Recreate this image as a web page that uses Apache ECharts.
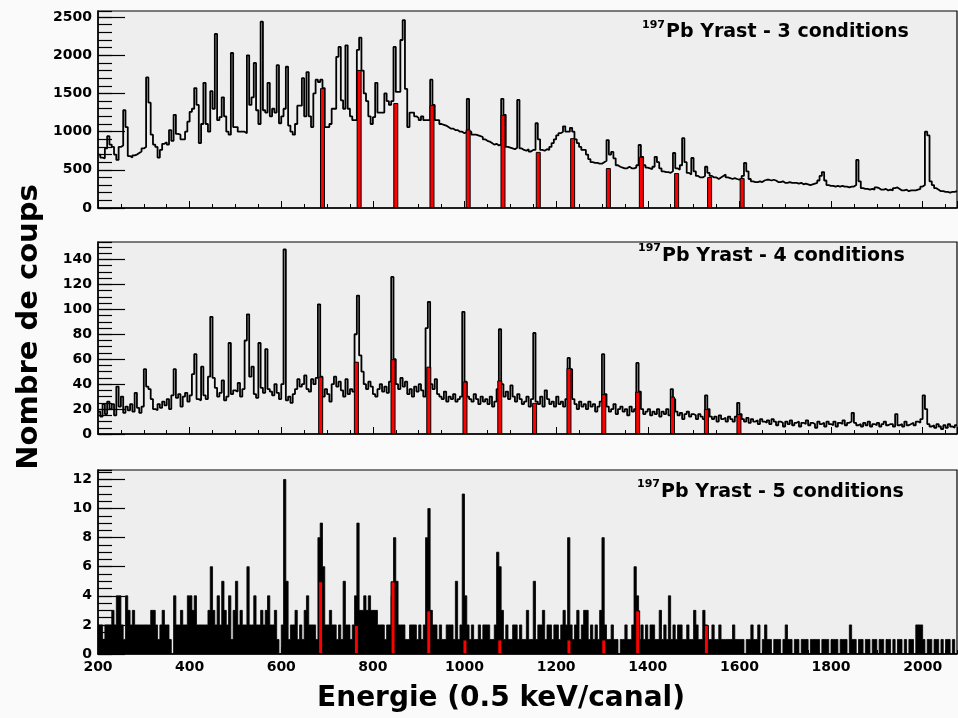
<!DOCTYPE html>
<html><head><meta charset="utf-8">
<script src="https://cdn.jsdelivr.net/npm/echarts@6/dist/echarts.min.js"></script>
<style>html,body{margin:0;padding:0;background:#fafafa}#c{width:958px;height:718px}</style>
</head><body><div id="c"></div>
<script>
// Histogram binning (channel energy axis)
const binStart = 200;
const binWidth = 5;
const xMin = 200, xMax = 2075;

// 197Pb Yrast - 3 conditions (counts per 5-channel bin, 200..2075)
const counts3 = [
 700,660,650,780,940,830,800,700,630,800,820,1280,1060,680,660,690,700,720,740,780,
 800,1710,1380,960,830,800,660,760,840,860,830,1020,880,1220,970,960,900,900,1000,1130,
 1260,1300,1570,1350,850,1100,1640,1100,1000,1530,1300,2280,1150,1190,1450,1200,1000,960,2030,1060,
 1060,1000,1000,1000,980,2000,1350,1450,1900,1280,1100,2440,1280,1250,1640,1200,1300,1250,1870,1110,
 1200,1300,1850,1080,1000,960,1100,1340,1340,1700,1200,1780,1200,1060,1500,1680,1650,1680,1570,1060,
 1060,1100,1300,1300,1980,2110,1410,1300,2130,1300,1200,1150,1150,2070,2230,1800,1500,1400,1200,1100,
 1190,1640,1250,1250,1250,1500,1400,1350,1400,2110,1520,1520,2200,2460,1560,1060,1250,1250,1200,1180,
 1150,1200,1150,1150,1150,1680,1350,1150,1150,1100,1090,1080,1060,1040,1040,1020,1020,1000,1000,980,
 1000,1430,1000,960,960,950,940,930,900,880,870,850,830,840,820,830,1430,1220,800,790,
 780,770,790,1415,780,760,750,770,740,760,760,1110,900,760,750,770,760,800,850,900,
 950,980,1000,1070,1000,1000,1050,1000,900,850,800,760,760,700,640,600,590,590,580,580,
 600,620,890,700,735,650,560,540,530,520,520,540,520,520,530,560,825,670,560,530,
 520,510,540,670,600,520,480,470,470,460,480,720,520,500,560,915,600,460,440,655,
 480,420,400,400,420,540,460,420,400,400,380,400,420,440,400,390,380,390,380,370,
 390,420,590,480,380,350,340,340,350,340,360,370,370,360,370,360,340,340,350,330,
 330,340,330,330,330,320,330,310,320,310,300,310,320,330,360,420,470,360,300,290,
 290,280,290,280,290,280,280,270,280,280,300,630,350,260,250,250,240,250,240,270,
 260,240,240,250,230,240,230,260,270,250,230,230,240,220,230,230,230,240,250,280,
 300,1000,950,350,300,260,240,220,220,210,210,200,210,210,220
];
// 197Pb Yrast - 4 conditions
const counts4 = [
 18,14,24,16,26,20,24,15,38,22,30,17,22,19,24,18,33,21,17,22,
 52,38,36,28,20,19,24,21,26,23,28,20,31,52,29,32,22,30,33,26,
 31,48,64,28,27,54,31,28,46,94,45,37,30,33,43,27,30,73,32,35,
 34,41,30,36,75,96,46,54,32,29,73,37,33,68,36,34,31,40,33,28,
 40,148,27,30,25,32,36,44,38,40,47,36,34,44,40,45,104,46,30,36,
 32,26,40,46,38,42,35,30,44,32,36,34,80,111,63,50,40,36,42,38,
 32,30,36,40,34,38,33,42,126,60,40,36,45,38,42,32,36,30,38,34,
 40,35,30,85,106,40,36,44,32,30,28,34,26,30,28,32,26,28,30,98,
 42,30,28,26,32,28,24,30,26,28,24,30,22,26,36,84,40,30,34,28,
 39,30,26,32,28,24,26,30,22,28,81,26,24,30,22,35,28,24,26,22,
 30,24,26,22,28,61,52,28,24,20,26,22,24,20,26,22,24,18,22,26,
 64,32,22,18,20,24,16,20,22,18,20,15,22,18,20,57,34,20,16,18,
 20,15,18,16,20,14,18,16,20,15,36,28,18,15,17,12,16,18,14,16,
 15,12,16,14,12,31,20,14,12,14,10,15,12,13,10,14,12,10,14,25,
 16,12,10,13,9,12,10,11,8,12,10,9,11,8,12,10,7,10,9,6,
 10,8,11,7,9,10,6,9,8,11,7,9,8,5,10,8,9,6,10,8,
 7,10,6,9,8,11,7,9,10,17,9,7,8,6,9,7,10,6,8,7,
 9,6,8,10,7,8,8,6,16,7,8,6,10,7,8,9,7,10,9,12,
 31,20,8,6,7,5,8,6,4,7,5,8,6,5,7
];
// 197Pb Yrast - 5 conditions
const counts5 = [
 2,2,1,2,2,2,3,2,4,4,2,1,4,3,2,3,2,2,2,2,
 2,2,2,3,3,2,1,2,3,2,2,1,0,4,2,2,3,2,2,4,
 4,3,4,2,2,2,2,2,3,6,3,2,4,2,5,3,2,4,1,3,
 5,2,3,2,2,6,2,2,4,2,2,3,2,3,4,2,2,3,1,0,
 2,12,5,1,2,2,3,1,2,1,3,4,2,2,2,1,8,9,6,2,
 2,3,2,2,1,2,1,5,2,2,1,2,4,9,3,3,4,3,4,3,
 3,3,2,2,2,1,2,2,4,8,5,2,2,2,1,1,2,2,2,1,
 2,1,2,8,10,3,2,2,1,2,1,1,2,2,2,1,5,1,2,11,
 4,2,1,2,1,1,2,1,2,2,2,1,1,2,7,6,3,1,2,1,
 1,2,2,1,2,1,1,3,1,1,5,1,2,2,3,1,2,2,1,2,
 2,1,2,3,2,8,2,1,2,3,1,2,3,3,1,2,1,2,1,3,
 8,2,1,1,2,1,1,0,1,1,2,1,1,2,6,4,1,2,1,2,
 1,2,2,1,1,3,1,2,1,4,1,2,1,2,2,1,1,2,1,1,
 3,2,1,1,3,2,1,1,2,1,1,2,1,1,1,1,1,2,1,1,
 1,1,0,1,1,2,1,1,2,0,1,2,1,1,0,1,1,1,0,1,
 2,1,1,0,1,1,0,1,1,1,0,1,1,1,1,0,1,1,1,0,
 1,1,1,0,1,1,1,0,2,1,1,0,1,1,0,1,1,0,1,1,
 0,1,1,0,1,1,0,1,0,1,1,0,1,0,1,1,0,2,2,2,
 1,0,1,1,0,1,1,0,1,0,1,1,0,1,0
];

// Yrast band transitions (red)
const peakE3 = [690,770,850,929,1008,1084,1161,1236,1314,1386,1463,1535,1606];
const peakH3 = [1570,1808,1375,1350,1030,1220,735,915,523,670,458,406,393];
const peakE4 = [686,764,844,922,1001,1077,1153,1228,1304,1378,1454,1528,1599];
const peakH4 = [46,58,60,54,42,43,25,53,32,34,30,20,16];
const peakE5 = [686,764,844,922,1001,1077,1228,1304,1378,1528];
const peakH5 = [5,2,5,3,1,1,1,1,3,2];

const titleSup = '197';
const titleMain = ['Pb Yrast - 3 conditions','Pb Yrast - 4 conditions','Pb Yrast - 5 conditions'];
const yMax = [2580, 154, 12.65];
const yMajor = [500, 20, 2];
const yMinor = [100, 5, 0.5];
const xMajor = 200, xMinorStep = 50;
const yTitle = 'Nombre de coups';
const xTitle = 'Energie (0.5 keV/canal)';

const FONT = '"DejaVu Sans", sans-serif';
function hist(counts){
  const d = counts.map((v,i)=>[binStart+i*binWidth, v]);
  d.push([binStart+counts.length*binWidth, counts[counts.length-1]]);
  return d;
}
const grids = [
  {left:98, right:1, top:11, height:197},
  {left:98, right:1, top:242, height:192},
  {left:98, right:1, top:470, height:184}
].map(g=>Object.assign(g,{show:true, backgroundColor:'#eeeeee', borderColor:'#000', borderWidth:1.2}));

const xAxes = [], yAxes = [];
for (let g=0; g<3; g++){
  xAxes.push({type:'value', gridIndex:g, position:'bottom', min:xMin, max:xMax, interval:xMajor,
    axisLine:{show:true, onZero:false, lineStyle:{color:'#000', width:1.5}},
    axisTick:{show:true, inside:true, length:7, lineStyle:{color:'#000', width:1}},
    splitLine:{show:false},
    axisLabel:{show:g===2, showMaxLabel:false, color:'#000', fontFamily:FONT, fontWeight:'bold', fontSize:14, margin:6, formatter:v=>String(v)}});
  xAxes.push({type:'value', gridIndex:g, position:'bottom', min:xMin, max:xMax, interval:xMinorStep,
    axisLine:{show:false, onZero:false}, axisTick:{show:true, inside:true, length:4, lineStyle:{color:'#000', width:1}},
    splitLine:{show:false}, axisLabel:{show:false}});
  yAxes.push({type:'value', gridIndex:g, position:'left', min:0, max:yMax[g], interval:yMajor[g],
    axisLine:{show:true, onZero:false, lineStyle:{color:'#000', width:1.5}},
    axisTick:{show:true, inside:true, length:27, lineStyle:{color:'#000', width:1.2}},
    splitLine:{show:false},
    axisLabel:{showMaxLabel:false, color:'#000', fontFamily:FONT, fontWeight:'bold', fontSize:14, margin:6, formatter:v=>String(v)}});
  yAxes.push({type:'value', gridIndex:g, position:'left', min:0, max:yMax[g], interval:yMinor[g],
    axisLine:{show:false, onZero:false}, axisTick:{show:true, inside:true, length:14, lineStyle:{color:'#000', width:1.2}},
    splitLine:{show:false}, axisLabel:{show:false}});
}
const countsAll = [counts3, counts4, counts5];
const peaksE = [peakE3, peakE4, peakE5], peaksH = [peakH3, peakH4, peakH5];
const series = [];
for (let g=0; g<3; g++){
  const s = {type:'line', xAxisIndex:2*g, yAxisIndex:2*g, step:'end', data:hist(countsAll[g]),
    symbol:'none', lineStyle:{color:'#000', width:g===2?0.8:1.8}, z:3, silent:true};
  if (g===2) s.areaStyle = {color:'#000', opacity:1};
  series.push(s);
  series.push({type:'bar', xAxisIndex:2*g, yAxisIndex:2*g, barWidth:5, z:4, silent:true,
    data:peaksE[g].map((e,i)=>[e, peaksH[g][i]]),
    itemStyle:{color:'#ff0000', borderColor:'#000', borderWidth:1}});
}
const supPos = [[642,20],[638,243],[637,479]];
const mainPos = [[666,23],[662,247],[661,483]];
const graphic = [];
for (let g=0; g<3; g++){
  graphic.push({type:'text', x:supPos[g][0], y:supPos[g][1], style:{text:titleSup, fill:'#000',
    font:'bold 11px '+FONT, align:'left', verticalAlign:'top', textAlign:'left', textVerticalAlign:'top'}});
  graphic.push({type:'text', x:mainPos[g][0], y:mainPos[g][1], style:{text:titleMain[g], fill:'#000',
    font:'bold 19px '+FONT, align:'left', verticalAlign:'top', textAlign:'left', textVerticalAlign:'top'}});
}
graphic.push({type:'text', x:29, y:327, rotation:Math.PI/2, style:{text:yTitle, fill:'#000',
  font:'bold 29px '+FONT, align:'center', verticalAlign:'middle', textAlign:'center', textVerticalAlign:'middle'}});
graphic.push({type:'text', x:501, y:699, style:{text:xTitle, fill:'#000',
  font:'bold 28px '+FONT, align:'center', verticalAlign:'middle', textAlign:'center', textVerticalAlign:'middle'}});

const chart = echarts.init(document.getElementById('c'), null, {renderer:'canvas'});
chart.setOption({
  animation:false, backgroundColor:'#fafafa',
  grid:grids, xAxis:xAxes, yAxis:yAxes, series:series, graphic:graphic
});
</script></body></html>
